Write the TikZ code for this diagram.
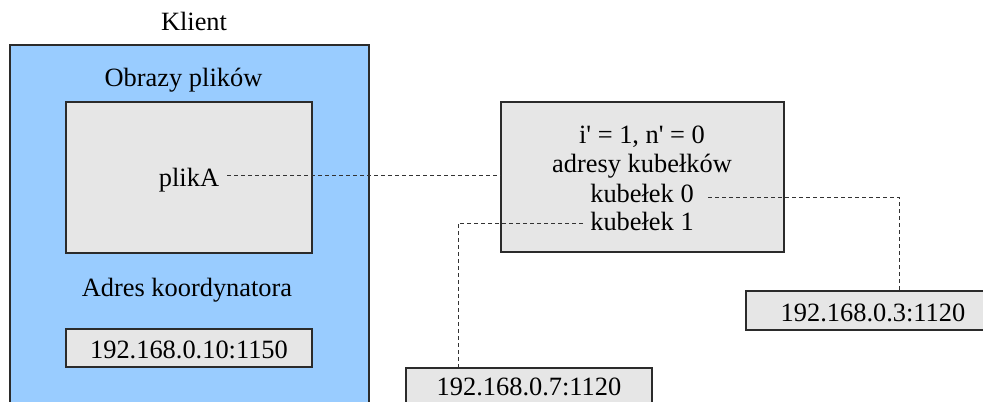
\documentclass[tikz,border=0pt]{standalone}
\usepackage{fontspec}
\setmainfont{Liberation Serif}
\definecolor{clientblue}{HTML}{99CCFF}
\definecolor{panelgray}{HTML}{E6E6E6}
\definecolor{edgegray}{HTML}{2B2B2B}
\begin{document}
\begin{tikzpicture}[x=0.5pt,y=-0.5pt,
  font=\fontsize{13.2}{15}\selectfont,
  box/.style={draw=edgegray,line width=0.6pt,inner sep=0pt,rectangle},
  panel/.style={box,fill=panelgray},
  txt/.style={anchor=base,inner sep=0pt},
  link/.style={draw=black!80,line width=0.5pt,dash pattern=on 2pt off 1.5pt}]
\useasboundingbox (0,0) rectangle (983,401);
\clip (0,0) rectangle (983,401);

% client machine
\node[box,fill=clientblue,minimum width=179.5pt,minimum height=187.5pt] (client) at (189.5,232.5) {};
\node[txt] (klient) at (194,31) {Klient};
\node[txt] (obrazy) at (183.5,87) {Obrazy plików};
\node[panel,minimum width=123pt,minimum height=75.5pt] (files) at (189,177.5) {};
\node[txt] (plikA) at (189,186) {plikA};
\node[txt] (adres) at (187,296) {Adres koordynatora};
\node[panel,minimum width=123pt,minimum height=19pt] (coord) at (189,348) {};
\node[txt] (coordip) at (189,358) {192.168.0.10:1150};

% bucket table
\node[panel,minimum width=141.5pt,minimum height=75pt] (table) at (642.5,177) {};
\node[txt] (params) at (642,143) {i\textquotesingle{} = 1, n\textquotesingle{} = 0};
\node[txt] (addrs) at (642,172) {adresy kubełków};
\node[txt] (kub0) at (642,202) {kubełek 0};
\node[txt] (kub1) at (642,230) {kubełek 1};

% bucket servers
\node[panel,minimum width=127pt,minimum height=19.5pt] (b0) at (873,310.5) {};
\node[txt] (b0ip) at (873,321) {192.168.0.3:1120};
\node[panel,minimum width=123pt,minimum height=22pt] (b1) at (529,390) {};
\node[txt] (b1ip) at (529,395) {192.168.0.7:1120};

% connectors
\coordinate (pA) at (227,175);
\draw[link] (pA) -- (pA -| table.west);
\coordinate (k0) at (708,197);
\coordinate (c0) at (899,197);
\draw[link] (k0) -- (c0) -- (c0 |- b0.north);
\coordinate (k1) at (583,223);
\coordinate (c1) at (458,223);
\draw[link] (k1) -- (c1) -- (c1 |- b1.north);
\end{tikzpicture}
\end{document}
